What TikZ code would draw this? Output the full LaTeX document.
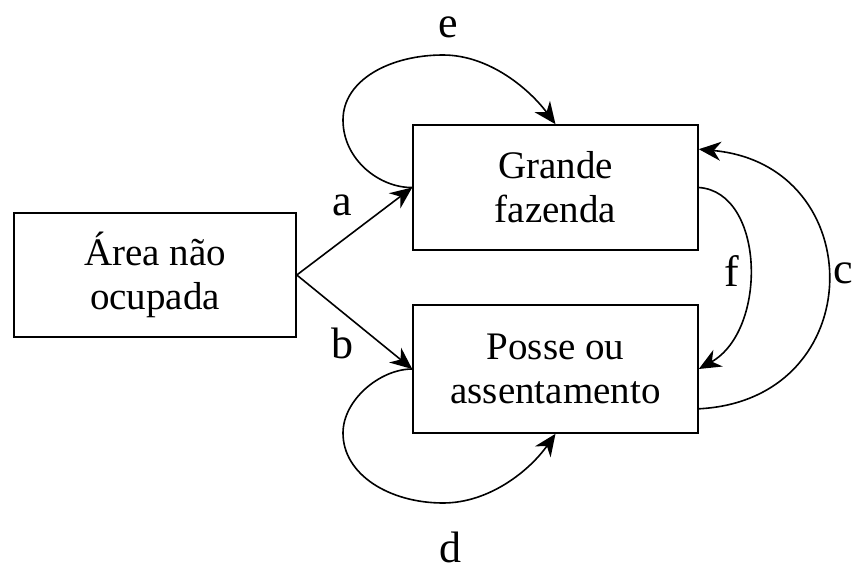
\documentclass[tikz,border=0pt]{standalone}
\usepackage{fontspec}
\setmainfont{Liberation Serif}
\usetikzlibrary{arrows.meta,calc}
\begin{document}
\begin{tikzpicture}[x=1pt,y=-1pt,
  box/.style={draw,line width=1.6pt,inner sep=0pt,align=center,
    font=\fontsize{39}{44}\selectfont},
  conn/.style={line width=1.6pt,-{Stealth[length=22pt,width=19pt,inset=7pt]}},
  lbl/.style={inner sep=0pt,font=\fontsize{44}{50}\selectfont}]
\useasboundingbox (0,0) rectangle (855,573);
\node[box,minimum width=282pt,minimum height=124pt] (A) at (155,275) {Área não\\ocupada};
\node[box,minimum width=285pt,minimum height=125pt] (G) at (555.5,187.5) {Grande\\fazenda};
\node[box,minimum width=285pt,minimum height=128pt] (P) at (555.5,369) {Posse ou\\assentamento};
\coordinate (cs) at ($(P.south east)+(0,-25)$);
\coordinate (ce) at ($(G.north east)+(0,25)$);
\draw[conn] (A.east) -- (G.west);
\draw[conn] (A.east) -- (P.west);
\draw[conn] (G.west) .. controls (380,188) and (343,160) .. (343,120)
  .. controls (343,80) and (390,55) .. (443,55)
  .. controls (490,55) and (530,90) .. (G.north);
\draw[conn] (P.west) .. controls (380,369) and (343,400) .. (343,433)
  .. controls (343,475) and (390,503) .. (443,503)
  .. controls (490,503) and (530,470) .. (P.south);
\draw[conn] (G.east) .. controls (765,192) and (768,330) .. (P.east);
\draw[conn] (cs) .. controls (871,400) and (871,165) .. (ce);
\node[lbl] (la) at (342,205) {a};
\node[lbl] (lb) at (342,343) {b};
\node[lbl] (lc) at (843,273) {c};
\node[lbl] (ld) at (450,547) {d};
\node[lbl] (le) at (448,27) {e};
\node[lbl] (lf) at (732,271) {f};
\end{tikzpicture}
\end{document}
